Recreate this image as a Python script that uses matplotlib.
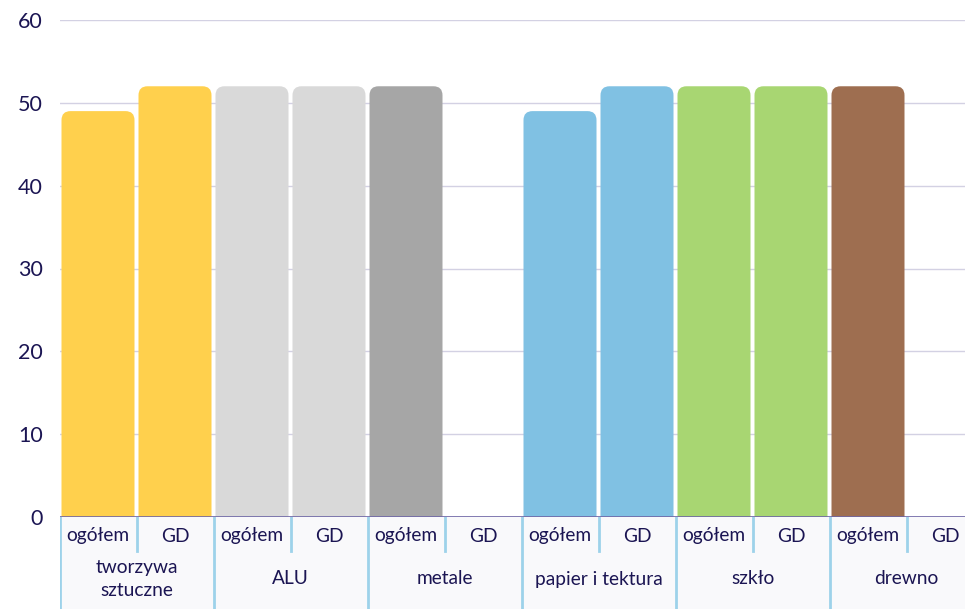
import matplotlib.pyplot as plt
from matplotlib.patches import FancyBboxPatch

plt.rcParams['font.family'] = ['Lato', 'DejaVu Sans']

# dane
kategorie = ['tworzywa\nsztuczne', 'ALU', 'metale', 'papier i tektura', 'szkło', 'drewno']
podgrupy = ['ogółem', 'GD']
wartosci = [49, 52, 52, 52, 52, None, 49, 52, 52, 52, 52, None]
kolory = ['#FFD04D', '#FFD04D', '#D9D9D9', '#D9D9D9', '#A6A6A6', '#A6A6A6',
          '#80C1E3', '#80C1E3', '#A8D672', '#A8D672', '#9E6E50', '#9E6E50']
yticks = [0, 10, 20, 30, 40, 50, 60]

TXT = '#1B1553'
W, H = 965, 609
fig = plt.figure(figsize=(W / 100, H / 100), dpi=100)

# osie główne (prawa krawędź wychodzi poza obraz)
left, right, top, base = 59.5, 983.5, 20, 517
ax = fig.add_axes([left / W, 1 - base / H, (right - left) / W, (base - top) / H])
n = len(wartosci)
ax.set_xlim(-0.5, n - 0.5)
ax.set_ylim(0, 60)
ax.set_yticks(yticks)
ax.set_xticks([])
ax.tick_params(axis='y', length=0, pad=12, labelsize=15.5, labelcolor=TXT)
for s in ax.spines.values():
    s.set_visible(False)
ax.grid(axis='y', color='#D3D1E3', lw=1)
ax.set_axisbelow(True)
ax.axhline(0, color='#6E66A6', lw=1.2, zorder=4)

# słupki z zaokrąglonymi górnymi rogami
px_x = (right - left) / n          # px na jednostkę x
px_y = (base - top) / 60           # px na jednostkę y
r = 9 / px_x
bw = 73 / 77
for i, (v, c) in enumerate(zip(wartosci, kolory)):
    if v is None:
        continue
    p = FancyBboxPatch((i - bw / 2, -5), bw, v + 5,
                       boxstyle=f'round,pad=0,rounding_size={r}',
                       mutation_aspect=px_x / px_y,
                       fc=c, ec='none', zorder=3)
    ax.add_patch(p)

# dwupoziomowe etykiety osi x
lab = fig.add_axes([left / W, 0, (right - left) / W, (H - base) / H])
lab.set_xlim(-0.5, n - 0.5)
lab.set_ylim(0, H - base)
lab.axis('off')
lab.add_patch(plt.Rectangle((-0.5, 0), n, H - base, fc='#F9F9FB', ec='none', zorder=0))
sep = '#9DD2EA'
for i in range(n):
    lab.text(i, 73, podgrupy[i % 2], ha='center', va='center', fontsize=13.8, color=TXT)
    if i % 2 == 0:
        lab.plot([i - 0.5, i - 0.5], [0, H - base], color=sep, lw=2)
    else:
        lab.plot([i - 0.5, i - 0.5], [58, H - base], color=sep, lw=2)
for k, kat in enumerate(kategorie):
    lab.text(2 * k + 0.5, 30, kat, ha='center', va='center', fontsize=13.8,
             color=TXT, linespacing=1.4)

fig.savefig('out.png', dpi=100)
